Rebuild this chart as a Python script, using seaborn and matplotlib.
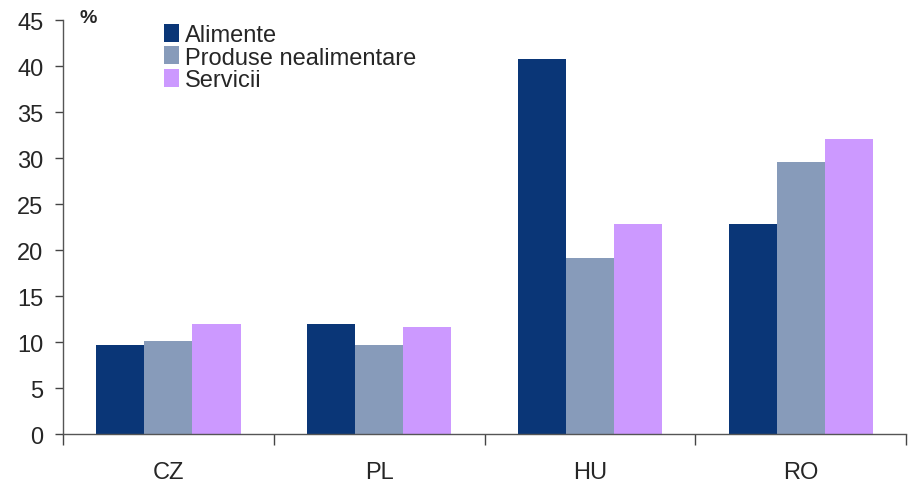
import matplotlib
matplotlib.use("Agg")
import matplotlib.pyplot as plt
import seaborn as sns
import pandas as pd

countries = ["CZ", "PL", "HU", "RO"]
series = ["Alimente", "Produse nealimentare", "Servicii"]
alimente = [9.7, 12.0, 40.8, 22.8]
produse = [10.1, 9.7, 19.1, 29.6]
servicii = [12.0, 11.7, 22.8, 32.1]
colors = ["#0A3677", "#879BBA", "#CC99FF"]

df = pd.DataFrame({
    "tara": countries * 3,
    "serie": [s for s in series for _ in countries],
    "val": alimente + produse + servicii,
})

sns.set_style("white", {"xtick.bottom": True, "ytick.left": True})
plt.rcParams["font.family"] = ["Liberation Sans", "DejaVu Sans"]

fig = plt.figure(figsize=(9.1, 4.89), dpi=100)
ax = fig.add_axes([0.069, 0.11, 0.927, 0.847])

sns.barplot(data=df, x="tara", y="val", hue="serie", palette=colors,
            width=0.686, gap=0, saturation=1, ax=ax, linewidth=0)

ax.set_xlim(-0.5, 3.5)
ax.set_ylim(0, 45)
ax.set_yticks(range(0, 46, 5))
ax.set_xticks([-0.5, 0.5, 1.5, 2.5, 3.5])
ax.set_xticklabels([])
ax.set_xticks(range(len(countries)), minor=True)
ax.set_xticklabels(countries, minor=True)
ax.tick_params(axis="x", which="major", bottom=True, direction="out", length=8,
               width=1, color="#444444")
ax.tick_params(axis="x", which="minor", bottom=True, length=0, pad=19, labelsize=17)
ax.tick_params(axis="y", left=True, direction="out", length=6, width=1, color="#444444",
               labelsize=17, pad=8)
ax.set_xlabel("")
ax.set_ylabel("")
for s in ["top", "right"]:
    ax.spines[s].set_visible(False)
for s in ["left", "bottom"]:
    ax.spines[s].set_color("#555555")
    ax.spines[s].set_linewidth(1)

ax.text(0.02, 1.027, "%", transform=ax.transAxes, fontsize=14, fontweight="bold",
        ha="left", va="top")

leg = ax.legend(loc="upper left", bbox_to_anchor=(0.12, 0.99), frameon=False,
                fontsize=17, handlelength=0.65, handleheight=0.8, labelspacing=0.0,
                handletextpad=0.25, borderaxespad=0, borderpad=0)

fig.savefig("out.png", dpi=100)
